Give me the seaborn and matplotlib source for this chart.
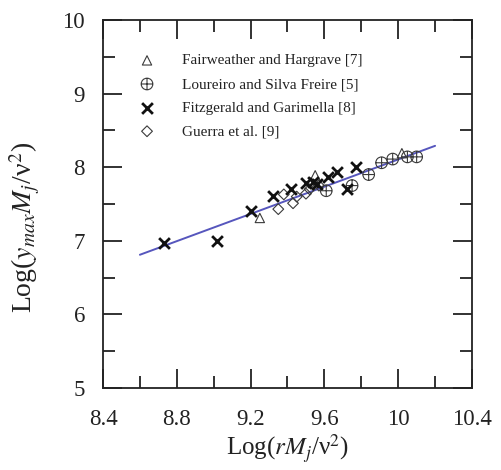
import matplotlib
matplotlib.use("Agg")
import matplotlib.pyplot as plt
from matplotlib.path import Path
import seaborn as sns

# Data sets: log-scaled jet parameters
fair_x = [9.25, 9.55, 10.02]
fair_y = [7.31, 7.89, 8.19]

lour_x = [9.61, 9.75, 9.84, 9.91, 9.97, 10.05, 10.10]
lour_y = [7.68, 7.75, 7.90, 8.06, 8.11, 8.14, 8.14]

fitz_x = [8.73, 9.02, 9.20, 9.32, 9.42, 9.50, 9.54, 9.56, 9.62, 9.67, 9.72, 9.77]
fitz_y = [6.97, 7.00, 7.40, 7.61, 7.70, 7.79, 7.80, 7.77, 7.87, 7.93, 7.71, 8.00]

guer_x = [9.35, 9.38, 9.43, 9.45, 9.50, 9.52, 9.57]
guer_y = [7.43, 7.63, 7.51, 7.60, 7.64, 7.70, 7.75]

fit_x = [8.60, 10.20]
fit_y = [6.81, 8.29]

labels = ["Fairweather and Hargrave [7]",
          "Loureiro and Silva Freire [5]",
          "Fitzgerald and Garimella [8]",
          "Guerra et al. [9]"]

x_ticks = [8.4, 8.8, 9.2, 9.6, 10.0, 10.4]
x_ticklabels = ["8.4", "8.8", "9.2", "9.6", "10", "10.4"]
x_minor = [8.6, 9.0, 9.4, 9.8, 10.2]
y_ticks = [5, 6, 7, 8, 9, 10]
y_ticklabels = ["5", "6", "7", "8", "9", "10"]
y_minor = [5.5, 6.5, 7.5, 8.5, 9.5]

sns.set_style("ticks")
plt.rcParams["font.family"] = ["Liberation Serif", "DejaVu Serif"]
plt.rcParams["mathtext.fontset"] = "stix"

# circle with a cross inside
oplus = Path.make_compound_path(
    Path.unit_circle(),
    Path([[-1, 0], [1, 0], [0, -1], [0, 1]],
         [Path.MOVETO, Path.LINETO, Path.MOVETO, Path.LINETO]),
)

fig = plt.figure(figsize=(5.01, 4.70), dpi=100)
ax = fig.add_axes([0.2056, 0.1745, 0.7365, 0.783])

gray = "#3a3a3a"
sns.scatterplot(x=fair_x, y=fair_y, ax=ax, marker="^", s=45,
                facecolor="none", edgecolor=gray, linewidth=0.8, label=labels[0], zorder=3)
sns.scatterplot(x=lour_x, y=lour_y, ax=ax, marker=oplus, s=70,
                facecolor="none", edgecolor=gray, linewidth=0.8, label=labels[1], zorder=3)
sns.scatterplot(x=fitz_x, y=fitz_y, ax=ax, marker="x", s=60,
                color="#111111", linewidth=2.0, label=labels[2], zorder=4)
sns.scatterplot(x=guer_x, y=guer_y, ax=ax, marker="D", s=30,
                facecolor="none", edgecolor=gray, linewidth=0.8, label=labels[3], zorder=3)
sns.lineplot(x=fit_x, y=fit_y, ax=ax, color="#5656bd", linewidth=1.4, zorder=2)

ax.set_xlim(8.4, 10.4)
ax.set_ylim(5, 10)
ax.set_xticks(x_ticks)
ax.set_xticklabels(x_ticklabels)
ax.set_xticks(x_minor, minor=True)
ax.set_yticks(y_ticks)
ax.set_yticklabels(y_ticklabels)
ax.set_yticks(y_minor, minor=True)

ax.tick_params(which="both", direction="in", top=True, right=True,
               width=1.3, color="#222222", labelsize=16.5, labelcolor="#222222")
ax.tick_params(which="major", length=13.5)
ax.tick_params(which="minor", length=8.6)
ax.tick_params(axis="x", which="major", pad=15)
ax.tick_params(axis="y", which="major", pad=13)
for sp in ax.spines.values():
    sp.set_visible(True)
    sp.set_linewidth(1.3)
    sp.set_color("#222222")

ax.set_xlabel("Log($rM_j$/ν$^2$)", fontsize=18, color="#222222", labelpad=2)
ax.set_ylabel("Log($y_{max}M_j$/ν$^2$)", fontsize=20, color="#222222")
ax.yaxis.set_label_coords(-0.165, 0.435)

leg = ax.legend(loc="upper left", bbox_to_anchor=(0.082, 0.925), frameon=False,
                fontsize=11, handlelength=1.0, handletextpad=1.8,
                labelspacing=0.65, borderaxespad=0)
for t in leg.get_texts():
    t.set_color("#222222")

fig.savefig("out.png", dpi=100)
